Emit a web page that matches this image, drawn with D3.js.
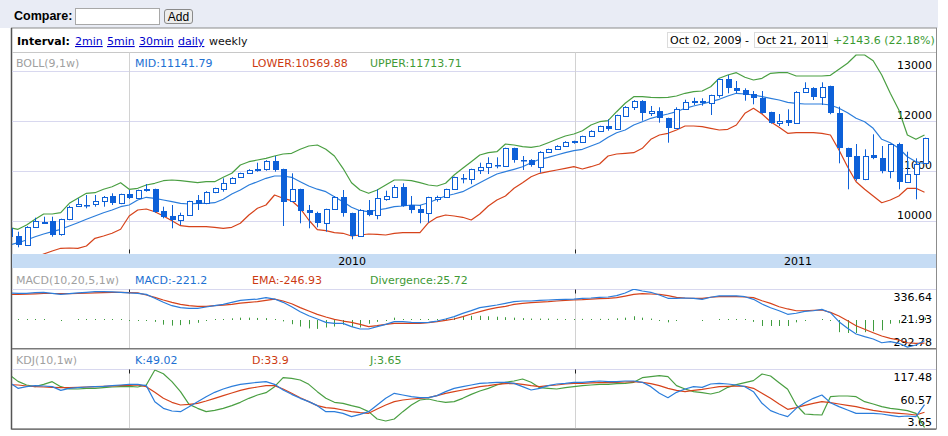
<!DOCTYPE html>
<html>
<head>
<meta charset="utf-8">
<script src="https://cdn.jsdelivr.net/npm/d3@7"></script>
<style>
  body { margin: 0; background: #fff; }
  svg { display: block; font-family: "DejaVu Sans", Verdana, sans-serif; font-size: 11px; }
</style>
</head>
<body>
<svg id="chart" width="948" height="436"></svg>
<script>
// weekly bars, Fridays from Sep 25 2009 to Oct 14 2011 (first one is cut by the left edge)
const weeks = d3.timeFriday.range(new Date(2009, 8, 25), new Date(2011, 9, 15));

const opens = [9846, 9694, 9514, 9866, 9956, 9986, 9728, 10028, 10294, 10318,
  10328, 10400, 10494, 10348, 10534, 10448, 10620, 10628, 10194, 10094,
  10014, 10114, 10414, 10348, 10568, 10628, 10748, 10868, 10948, 11028,
  11028, 11200, 11028, 10394, 10628, 10214, 10148, 9948, 10228, 10468,
  10148, 9694, 10214, 10114, 10434, 10480, 10668, 10314, 10234, 10160,
  10440, 10468, 10628, 10860, 10840, 11014, 11068, 11120, 11094, 11448,
  11220, 11214, 11080, 11380, 11428, 11500, 11580, 11580, 11694, 11800,
  11894, 11828, 12100, 12268, 12400, 12148, 12194, 12048, 11860, 12228,
  12380, 12394, 12348, 12508, 12828, 12648, 12614, 12528, 12448, 12168,
  11948, 12014, 11948, 12580, 12660, 12480, 12694, 12148, 11448, 11294,
  10828, 11314, 11260, 11000, 11528, 10780, 10934, 11154];
const highs = [9917, 9780, 9890, 10060, 10080, 10080, 10040, 10300, 10448, 10514,
  10514, 10494, 10548, 10540, 10614, 10620, 10734, 10640, 10280, 10314,
  10160, 10400, 10514, 10590, 10660, 10848, 10870, 10960, 11030, 11160,
  11210, 11294, 11040, 10948, 10640, 10314, 10180, 10240, 10494, 10614,
  10160, 10230, 10414, 10628, 10600, 10714, 10748, 10494, 10314, 10480,
  10500, 10640, 10880, 10934, 11040, 11160, 11268, 11268, 11460, 11460,
  11294, 11230, 11390, 11440, 11510, 11590, 11600, 11700, 11810, 11900,
  12028, 12120, 12290, 12410, 12410, 12294, 12268, 12060, 12268, 12420,
  12460, 12448, 12520, 12840, 12914, 12794, 12648, 12594, 12594, 12180,
  12134, 12228, 12590, 12768, 12670, 12768, 12700, 12280, 11460, 11534,
  11428, 11728, 11494, 11540, 11560, 11380, 11248, 11660];
const lows = [9628, 9468, 9500, 9860, 9948, 9680, 9700, 10010, 10280, 10248,
  10280, 10280, 10314, 10330, 10434, 10440, 10580, 10160, 10048, 9848,
  9914, 10100, 10214, 10330, 10550, 10580, 10740, 10860, 10940, 10980,
  11000, 10980, 9894, 10390, 9948, 9848, 9868, 9780, 10220, 10080,
  9628, 9680, 10090, 10028, 10400, 10470, 10280, 10148, 9948, 9960,
  10380, 10460, 10620, 10748, 10730, 10934, 10934, 11048, 11080, 11160,
  11014, 11080, 10960, 11370, 11420, 11490, 11540, 11570, 11690, 11790,
  11800, 11820, 12090, 12214, 12000, 12094, 11960, 11560, 11850, 12220,
  12314, 12300, 12114, 12460, 12548, 12548, 12400, 12328, 12140, 11940,
  11894, 11894, 11940, 12570, 12414, 12314, 12130, 11148, 10628, 10800,
  10810, 11230, 10948, 10848, 10628, 10760, 10428, 11140];
const closes = [9665, 9514, 9880, 9986, 9982, 9706, 10034, 10280, 10328, 10310,
  10400, 10480, 10348, 10534, 10448, 10614, 10630, 10180, 10080, 10014,
  10114, 10394, 10328, 10580, 10648, 10748, 10860, 10948, 11014, 11000,
  11200, 11014, 10380, 10628, 10194, 10148, 9948, 10228, 10480, 10160,
  9694, 10214, 10108, 10448, 10494, 10680, 10294, 10214, 10160, 10468,
  10480, 10628, 10868, 10830, 11028, 11068, 11148, 11110, 11448, 11214,
  11200, 11108, 11380, 11428, 11500, 11580, 11590, 11694, 11800, 11894,
  11828, 12114, 12280, 12400, 12148, 12194, 12048, 11860, 12228, 12380,
  12400, 12348, 12508, 12828, 12648, 12600, 12514, 12448, 12160, 11960,
  12000, 11948, 12580, 12660, 12480, 12680, 12148, 11448, 11280, 10828,
  11294, 11248, 11000, 11528, 10780, 10934, 11134, 11654];

const bollUpper = [9860, 9828, 9914, 10028, 10134, 10134, 10160, 10348, 10448, 10548,
  10560, 10628, 10680, 10760, 10628, 10648, 10714, 10748, 10800, 10814,
  10800, 10780, 10760, 10780, 10780, 10868, 10948, 11114, 11180, 11214,
  11248, 11294, 11334, 11348, 11428, 11494, 11514, 11428, 11294, 11048,
  10760, 10614, 10548, 10614, 10714, 10814, 10814, 10800, 10760, 10714,
  10694, 10748, 10914, 11048, 11180, 11314, 11360, 11380, 11534, 11514,
  11480, 11468, 11494, 11560, 11628, 11694, 11734, 11800, 11914, 11980,
  12000, 12180, 12348, 12480, 12480, 12468, 12460, 12468, 12494, 12548,
  12580, 12594, 12680, 12848, 12914, 12960, 12868, 12814, 12848, 12948,
  12960, 12960, 12894, 12894, 12894, 12894, 12908, 13028, 13148, 13314,
  13314, 13200, 12914, 12548, 12214, 11714, 11628, 11714];
const bollMid = [9515, 9560, 9614, 9680, 9734, 9780, 9828, 9894, 9960, 10028,
  10094, 10160, 10214, 10280, 10314, 10414, 10468, 10448, 10414, 10380,
  10348, 10334, 10348, 10348, 10360, 10428, 10534, 10614, 10714, 10780,
  10848, 10894, 10894, 10868, 10780, 10694, 10630, 10580, 10480, 10380,
  10268, 10200, 10180, 10214, 10240, 10280, 10294, 10314, 10308, 10360,
  10428, 10494, 10534, 10580, 10668, 10760, 10848, 10934, 10980, 11028,
  11080, 11160, 11228, 11268, 11314, 11360, 11400, 11428, 11494, 11560,
  11668, 11760, 11814, 11914, 11980, 12048, 12094, 12134, 12180, 12248,
  12294, 12334, 12380, 12428, 12494, 12548, 12534, 12514, 12480, 12448,
  12414, 12368, 12348, 12334, 12334, 12334, 12314, 12248, 12160, 12048,
  11980, 11848, 11628, 11560, 11448, 11280, 11180, 11142];
const bollLower = [9150, 9174, 9214, 9254, 9334, 9394, 9448, 9454, 9448, 9494,
  9648, 9694, 9748, 9828, 10094, 10214, 10234, 10180, 10094, 10000,
  9900, 9880, 9880, 9880, 9868, 9848, 9868, 9948, 10114, 10248,
  10314, 10514, 10448, 10400, 10248, 10014, 9820, 9800, 9760, 9748,
  9694, 9714, 9734, 9728, 9714, 9748, 9760, 9760, 9760, 9960,
  10068, 10114, 10094, 10068, 10014, 10134, 10294, 10414, 10494, 10648,
  10760, 10880, 10948, 10980, 11014, 11048, 11080, 11034, 11080, 11134,
  11294, 11334, 11348, 11360, 11448, 11628, 11714, 11748, 11814, 11894,
  11894, 11880, 11848, 11814, 11828, 11914, 12148, 12248, 12134, 11980,
  11868, 11748, 11760, 11760, 11760, 11748, 11714, 11414, 11080, 10780,
  10628, 10494, 10360, 10414, 10494, 10648, 10648, 10570];

const macdLine = [288, 285, 285, 292, 296, 285, 274, 281, 289, 296,
  303, 303, 300, 296, 289, 285, 274, 232, 189, 153,
  132, 125, 125, 139, 153, 167, 189, 210, 217, 224,
  239, 224, 189, 142, 89, 46, 11, -25, -36, -36,
  -71, -96, -96, -71, -46, -18, -18, -25, -28, -25,
  -11, 11, 36, 71, 100, 132, 146, 160, 178, 196,
  203, 203, 210, 214, 217, 221, 224, 232, 235, 242,
  246, 260, 289, 330, 310, 296, 267, 232, 232, 235,
  232, 221, 243, 257, 257, 257, 249, 221, 171, 131,
  99, 61, 72, 93, 99, 114, 78, -18, -89, -150,
  -178, -203, -243, -232, -249, -290, -267, -221.2];
const emaLine = [272, 274, 276, 280, 283, 283, 281, 281, 283, 286,
  290, 293, 295, 295, 293, 290, 267, 242, 214, 189,
  167, 153, 146, 146, 153, 160, 167, 181, 189, 196,
  210, 224, 203, 174, 132, 96, 60, 32, 7, -11,
  -25, -46, -71, -60, -46, -36, -36, -36, -36, -28,
  -18, -4, 11, 36, 64, 89, 114, 132, 146, 167,
  178, 185, 192, 196, 203, 210, 214, 217, 224, 228,
  232, 239, 256, 274, 281, 278, 274, 260, 242, 235,
  232, 232, 243, 249, 249, 249, 246, 239, 206, 178,
  142, 118, 99, 99, 104, 107, 82, 43, -7, -61,
  -99, -136, -171, -196, -214, -243, -249, -246.93];
const divergence = [8, 8, 6, 8, 10, 0, -5, 0, 5, 8,
  10, 8, 5, 3, -3, -5, -10, -20, -50, -60,
  -55, -45, -30, -8, 8, 10, 18, 25, 25, 22,
  20, 5, -15, -45, -70, -90, -95, -80, -70, -50,
  -75, -80, -40, -20, -5, 25, 10, 8, 5, 3,
  8, 15, 25, 35, 45, 45, 40, 35, 30, 25,
  20, 15, 15, 15, 12, 10, 8, 12, 10, 12,
  12, 18, 25, 40, 25, 15, -8, -25, -10, 0,
  0, -10, 0, 8, 8, 8, 3, -20, -64, -64,
  -64, -64, -25, -8, 0, 8, -5, -130, -139, -139,
  -130, -120, -110, -40, -35, -10, -5, 25.72];

const kLine = [93, 81.2, 84.5, 86.5, 85.8, 84.5, 77.2, 81.2, 82.5, 83.8,
  84.5, 85.2, 86.5, 87.8, 89.1, 89.1, 86.5, 54.8, 41.6, 36.3,
  35, 44.9, 54.8, 64.7, 73.3, 79.9, 85.2, 89.1, 91.1, 93.1,
  94.4, 89.1, 77.9, 69.3, 61.4, 54.8, 46.9, 35, 35, 31.7,
  25.1, 29.7, 35, 48.2, 61.4, 71.3, 68, 64.7, 62.7, 62.7,
  66.7, 74.6, 81.2, 84.5, 87.8, 91.1, 91.8, 93.1, 93.1, 91.1,
  84.5, 77.9, 81.2, 86.5, 89.8, 91.1, 93.1, 93.1, 94.4, 95.7,
  94.4, 94.4, 95.7, 95.7, 93.1, 84.5, 71.3, 62.7, 73.3, 79.9,
  84.5, 83.2, 89.8, 91.1, 89.8, 87.8, 84.5, 74.6, 51.5, 37,
  30.4, 25.1, 41.6, 52.8, 61.4, 68, 52.8, 44.9, 38.3, 31.7,
  31.7, 31.7, 30.4, 27.7, 25.1, 26.4, 25.1, 49.02];
const dLine = [88.5, 87.8, 85.8, 84.5, 83.8, 83.2, 82.5, 82.5, 83.2, 83.8,
  84.5, 85.2, 85.8, 86.5, 87.1, 87.8, 84.5, 73.3, 61.4, 53.5,
  48.2, 49.5, 51.5, 56.1, 61.4, 66.7, 72, 77.2, 81.2, 83.8,
  86.5, 86.5, 79.9, 71.3, 62.7, 54.8, 46.9, 42.9, 41.6, 38.3,
  35, 33, 31.7, 40.3, 48.2, 54.8, 58.1, 60.1, 61.4, 62.7,
  66.7, 71.3, 74.6, 77.9, 81.2, 84.5, 86.5, 89.1, 90.4, 91.1,
  89.1, 86.5, 84.5, 86.5, 87.8, 89.8, 91.1, 91.1, 91.8, 92.4,
  92.4, 93.1, 93.7, 94.4, 93.1, 90.4, 86.5, 81.2, 77.2, 74.6,
  77.2, 79.2, 81.9, 84.5, 85.2, 85.8, 85.2, 81.2, 71.3, 61.4,
  50.2, 39.6, 42.9, 47.5, 51.5, 54.8, 52.8, 50.2, 47.5, 44.9,
  41, 37.6, 35, 33, 31.7, 30.4, 28.4, 33.9];
const jLine = [108, 95, 87.8, 84.5, 89.1, 94.4, 84.5, 79.9, 79.9, 81.2,
  81.2, 82.5, 83.8, 84.5, 85.2, 83.8, 87.8, 117.48, 110, 94.4,
  74.6, 49.5, 41.6, 35, 37.6, 41.6, 46.9, 53.5, 61.4, 68,
  72.6, 84.5, 102.3, 101, 97.7, 89.1, 74.6, 61.4, 53.5, 51.5,
  46.9, 42.9, 35, 20.5, 16.5, 20.5, 35, 48.2, 58.1, 60.1,
  56.1, 53.5, 54.8, 61.4, 69.3, 75.9, 81.2, 87.8, 93.1, 95.7,
  99.7, 93.1, 82.5, 81.2, 79.9, 82.5, 84.5, 86.5, 87.8, 89.1,
  89.1, 90.4, 91.1, 93.1, 102.3, 104.3, 106.3, 104.3, 86.5, 79.9,
  74.6, 72.6, 70, 74, 83.2, 88.5, 92.4, 96.4, 109.6, 105.6,
  92.4, 79.2, 48.2, 30.4, 29.1, 28.4, 64.7, 66, 66, 64.7,
  54.8, 50.2, 44.9, 41.6, 39.6, 37, 31.7, 3.65];

const priceTicks = [10000, 11000, 12000, 13000];
const macdTicks = [336.64, 21.93, -292.78];
const macdTickLabels = ["336.64", "21.93", "292.78"];
const kdjTicks = [117.48, 60.57, 3.65];
const kdjTickLabels = ["117.48", "60.57", "3.65"];

const intervals = ["2min", "5min", "30min", "daily", "weekly"];
const rangeLabels = ["Oct 02, 2009", "Oct 21, 2011"];
const changeLabel = "+2143.6 (22.18%)";
const bollHeader = ["BOLL(9,1w)", "MID:11141.79", "LOWER:10569.88", "UPPER:11713.71"];
const macdHeader = ["MACD(10,20,5,1w)", "MACD:-221.2", "EMA:-246.93", "Divergence:25.72"];
const kdjHeader = ["KDJ(10,1w)", "K:49.02", "D:33.9", "J:3.65"];

const blue = '#2b7ddb', red = '#d6431b', green = '#4a9f42', candleBlue = '#0d60d8';
const headerColors = ['#a0a0a0', '#2070d2', '#cc3a12', '#3f9a36'];
const headerX = [16, 135, 252, 370];
const left = 12, right = 936;

const svg = d3.select('#chart');

let x = d3.scaleTime()
    .domain([new Date(2009, 9, 2), new Date(2011, 9, 14)])
    .range([18, 924.5]);
let yPrice = d3.scaleLinear().domain([10000, 13000]).range([220.7, 70.7]);
let yMacd = d3.scaleLinear().domain([-292.78, 336.64]).range([347.4, 288.5]);
let yKdj = d3.scaleLinear().domain([3.65, 117.48]).range([427.5, 370]);

let years = d3.timeYear.range(new Date(2009, 9, 2), new Date(2011, 9, 15));

// compare bar
svg.append('rect').attr('x', 0).attr('y', 0).attr('width', 938).attr('height', 28).attr('fill', '#e9ecf5');
svg.append('text').attr('x', 14).attr('y', 20)
    .attr('font-family', '"Liberation Sans", Arial, sans-serif')
    .attr('font-weight', 'bold').attr('font-size', 12.5).text('Compare:');
svg.append('rect').attr('x', 75.5).attr('y', 8.5).attr('width', 84).attr('height', 16)
    .attr('fill', '#fff').attr('stroke', '#a8a8a8');
svg.append('rect').attr('x', 164.5).attr('y', 9.5).attr('width', 28).attr('height', 14).attr('rx', 2.5)
    .attr('fill', '#ececec').attr('stroke', '#8a8a8a');
svg.append('text').attr('x', 178.5).attr('y', 20.5).attr('text-anchor', 'middle')
    .attr('font-family', '"Liberation Sans", Arial, sans-serif').attr('font-size', 12).text('Add');

// frame
svg.append('rect').attr('x', 11.5).attr('y', 28).attr('width', 925).attr('height', 401)
    .attr('fill', '#fff').attr('stroke', '#8c8c8c');
svg.append('line').attr('x1', 11.5).attr('x2', 11.5).attr('y1', 28).attr('y2', 429.5)
    .attr('stroke', '#555').attr('stroke-width', 1.5);

// interval row
svg.append('text').attr('x', 17).attr('y', 45).attr('font-weight', 'bold').text('Interval:');
let linkX = [75, 107, 139, 178, 209];
svg.selectAll('.interval').data(intervals).join('text')
    .classed('interval', true)
    .attr('x', (d, i) => linkX[i]).attr('y', 45)
    .attr('fill', (d, i) => i < 4 ? '#0000cc' : '#111')
    .attr('text-decoration', (d, i) => i < 4 ? 'underline' : 'none')
    .text(d => d);

svg.selectAll('.rangebox').data(rangeLabels).join('rect')
    .classed('rangebox', true)
    .attr('x', (d, i) => i ? 754.5 : 667.5).attr('y', 32.5)
    .attr('width', 73).attr('height', 15)
    .attr('fill', '#fff').attr('stroke', '#dcdcdc');
svg.selectAll('.rangetext').data(rangeLabels).join('text')
    .classed('rangetext', true)
    .attr('x', (d, i) => i ? 757 : 670).attr('y', 44)
    .text(d => d);
svg.append('text').attr('x', 745).attr('y', 44).text('-');
svg.append('text').attr('x', 833).attr('y', 44).attr('fill', '#3a9a32').text(changeLabel);

svg.append('line').attr('x1', left).attr('x2', right).attr('y1', 52.5).attr('y2', 52.5).attr('stroke', '#c8c8c8');

function clip(id, y0, y1) {
    svg.append('clipPath').attr('id', id)
        .append('rect').attr('x', left).attr('y', y0).attr('width', right - left).attr('height', y1 - y0);
    return svg.append('g').attr('clip-path', `url(#${id})`);
}

function header(labels, y) {
    svg.append('g').selectAll('text').data(labels).join('text')
        .attr('x', (d, i) => headerX[i]).attr('y', y)
        .attr('fill', (d, i) => headerColors[i])
        .text(d => d);
}

function yearLines(y0, y1, tickTop) {
    svg.append('g').selectAll('line').data(years).join('line')
        .attr('x1', d => Math.round(x(d)) + 0.5).attr('x2', d => Math.round(x(d)) + 0.5)
        .attr('y1', y0).attr('y2', y1).attr('stroke', '#d2d2d2');
    svg.append('g').selectAll('line').data(years).join('line')
        .attr('x1', d => Math.round(x(d)) + 0.5).attr('x2', d => Math.round(x(d)) + 0.5)
        .attr('y1', tickTop).attr('y2', tickTop + 4).attr('stroke', '#222');
}

function sideLabels(values, labels, y, top, bottom) {
    svg.append('g').selectAll('text').data(values).join('text')
        .attr('x', 932).attr('text-anchor', 'end')
        .attr('y', d => Math.max(top + 8, Math.min(bottom - 6.5, y(d) + 1.5)))
        .attr('dominant-baseline', 'central')
        .text((d, i) => labels[i]);
}

function drawLine(g, values, y, color) {
    g.append('path').datum(values)
        .attr('fill', 'none').attr('stroke', color).attr('stroke-width', 1.2)
        .attr('stroke-linejoin', 'round')
        .attr('d', d3.line().x((d, i) => x(weeks[i])).y(d => y(d)));
}

// ---- price panel
svg.append('g').selectAll('line').data(priceTicks).join('line')
    .attr('x1', left).attr('x2', right)
    .attr('y1', d => Math.round(yPrice(d)) + 0.5).attr('y2', d => Math.round(yPrice(d)) + 0.5)
    .attr('stroke', '#d8d8ef');
yearLines(52.5, 250, 249.5);
header(bollHeader, 66.5);
svg.append('g').selectAll('text').data(priceTicks).join('text')
    .attr('x', 932).attr('text-anchor', 'end')
    .attr('y', d => yPrice(d) - 1.8)
    .text(d => d);

let pricePlot = clip('clip-price', 53, 254);
drawLine(pricePlot, bollUpper, yPrice, green);
drawLine(pricePlot, bollLower, yPrice, red);
drawLine(pricePlot, bollMid, yPrice, blue);

let candles = weeks.map((d, i) => ({ date: d, open: opens[i], high: highs[i], low: lows[i], close: closes[i] }));

pricePlot.selectAll('.wick').data(candles).join('line')
    .classed('wick', true)
    .attr('x1', d => Math.round(x(d.date)) + 0.5).attr('x2', d => Math.round(x(d.date)) + 0.5)
    .attr('y1', d => yPrice(d.high)).attr('y2', d => yPrice(d.low))
    .attr('stroke', candleBlue);

pricePlot.selectAll('.body').data(candles).join('rect')
    .classed('body', true)
    .attr('x', d => Math.round(x(d.date)) - (d.close < d.open ? 2 : 1.5))
    .attr('width', d => d.close < d.open ? 6 : 5)
    .attr('y', d => {
        let top = Math.round(yPrice(Math.max(d.open, d.close)));
        return d.close < d.open ? top : top + 0.5;
    })
    .attr('height', d => {
        let h = Math.round(yPrice(Math.min(d.open, d.close))) - Math.round(yPrice(Math.max(d.open, d.close)));
        return Math.max(d.close < d.open ? 1.5 : 1, h);
    })
    .attr('fill', d => d.close < d.open ? candleBlue : '#fff')
    .attr('stroke', d => d.close < d.open ? 'none' : candleBlue);

// date band
svg.append('rect').attr('x', left).attr('y', 254).attr('width', right - left).attr('height', 14).attr('fill', '#c6dcf4');
svg.append('g').selectAll('text').data(years).join('text')
    .attr('x', d => (x(d) + x(d3.timeYear.offset(d, 1))) / 2)
    .attr('y', 265).attr('text-anchor', 'middle')
    .text(d => d3.timeFormat('%Y')(d));

// ---- MACD panel
header(macdHeader, 284);
svg.append('line').attr('x1', left).attr('x2', right).attr('y1', 289.5).attr('y2', 289.5).attr('stroke', '#d8d8ef');
yearLines(289.5, 348, 289.5);
sideLabels(macdTicks, macdTickLabels, yMacd, 289, 349);

let macdPlot = clip('clip-macd', 289, 348.5);
macdPlot.selectAll('.bar').data(divergence).join('line')
    .classed('bar', true)
    .attr('x1', (d, i) => Math.round(x(weeks[i])) + 0.5).attr('x2', (d, i) => Math.round(x(weeks[i])) + 0.5)
    .attr('y1', yMacd(0))
    .attr('y2', d => d === 0 ? yMacd(0) : (Math.abs(yMacd(d) - yMacd(0)) < 1 ? yMacd(0) - Math.sign(d) : yMacd(d)))
    .attr('stroke', '#3f9c3f');
drawLine(macdPlot, emaLine, yMacd, red);
drawLine(macdPlot, macdLine, yMacd, blue);
svg.append('line').attr('x1', left).attr('x2', right).attr('y1', 348.75).attr('y2', 348.75)
    .attr('stroke', '#7a7a7a').attr('stroke-width', 1.5);

// ---- KDJ panel
header(kdjHeader, 364);
svg.append('line').attr('x1', left).attr('x2', right).attr('y1', 369.5).attr('y2', 369.5).attr('stroke', '#d8d8ef');
yearLines(369.5, 429, 369.5);
sideLabels(kdjTicks, kdjTickLabels, yKdj, 369.5, 429);

let kdjPlot = clip('clip-kdj', 369.5, 429);
drawLine(kdjPlot, jLine, yKdj, green);
drawLine(kdjPlot, dLine, yKdj, red);
drawLine(kdjPlot, kLine, yKdj, blue);
svg.append('line').attr('x1', left).attr('x2', right).attr('y1', 429.25).attr('y2', 429.25)
    .attr('stroke', '#7a7a7a').attr('stroke-width', 1.5);
</script>
</body>
</html>
